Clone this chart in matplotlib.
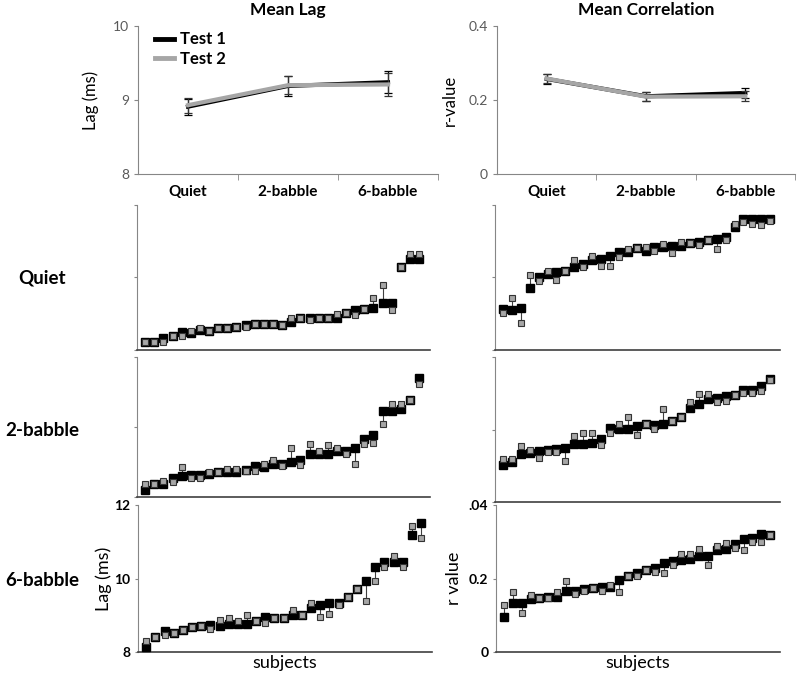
import numpy as np
import matplotlib
matplotlib.use("Agg")
import matplotlib.pyplot as plt
from matplotlib.lines import Line2D

plt.rcParams['font.family'] = ['Lato', 'DejaVu Sans']

# --- summary panels ---
conditions = ["Quiet", "2-babble", "6-babble"]
lag_t1 = [8.91, 9.19, 9.24]
lag_t2 = [8.93, 9.20, 9.21]
lag_err_t1 = [0.11, 0.13, 0.15]
lag_err_t2 = [0.10, 0.12, 0.15]
r_t1 = [0.257, 0.210, 0.219]
r_t2 = [0.258, 0.209, 0.210]
r_err_t1 = [0.013, 0.012, 0.013]
r_err_t2 = [0.012, 0.012, 0.014]

# --- per-subject values (test 1 = black, test 2 = grey) ---
quiet_lag_t1 = [8.23, 8.23, 8.34, 8.39, 8.51, 8.48, 8.55, 8.53, 8.62, 8.62, 8.64,
                8.69, 8.72, 8.72, 8.72, 8.70, 8.78, 8.87, 8.89, 8.87, 8.89, 8.89,
                9.03, 9.09, 9.13, 9.15, 9.29, 9.29, 10.30, 10.50, 10.50]
quiet_lag_t2 = [8.23, 8.23, 8.23, 8.39, 8.39, 8.52, 8.62, 8.53, 8.62, 8.62, 8.64,
                8.63, 8.72, 8.72, 8.72, 8.70, 8.87, 8.87, 8.83, 8.87, 8.89, 8.99,
                9.03, 8.97, 9.13, 9.44, 9.79, 9.10, 10.30, 10.65, 10.65]
quiet_r_t1 = [0.112, 0.110, 0.115, 0.170, 0.201, 0.210, 0.214, 0.218, 0.228, 0.237, 0.247,
              0.250, 0.258, 0.271, 0.271, 0.281, 0.274, 0.285, 0.285, 0.287, 0.288, 0.294,
              0.299, 0.304, 0.305, 0.313, 0.340, 0.362, 0.362, 0.362, 0.362]
quiet_r_t2 = [0.103, 0.143, 0.074, 0.207, 0.191, 0.218, 0.193, 0.218, 0.248, 0.228, 0.258,
              0.233, 0.233, 0.256, 0.279, 0.281, 0.283, 0.274, 0.293, 0.267, 0.297, 0.294,
              0.290, 0.304, 0.278, 0.304, 0.347, 0.352, 0.348, 0.345, 0.357]
b2_lag_t1 = [8.21, 8.38, 8.38, 8.55, 8.61, 8.64, 8.64, 8.66, 8.72, 8.71, 8.71,
             8.77, 8.88, 8.85, 8.94, 8.94, 8.99, 9.06, 9.22, 9.22, 9.22, 9.30,
             9.32, 9.39, 9.65, 9.77, 10.45, 10.45, 10.52, 10.76, 11.39]
b2_lag_t2 = [8.36, 8.38, 8.45, 8.44, 8.87, 8.55, 8.55, 8.71, 8.72, 8.80, 8.80,
             8.73, 8.73, 8.94, 9.06, 8.88, 9.41, 8.92, 9.51, 9.30, 9.49, 9.39,
             9.22, 8.94, 9.51, 9.55, 10.09, 10.65, 10.65, 10.76, 11.22]
b2_r_t1 = [0.103, 0.109, 0.133, 0.136, 0.141, 0.143, 0.147, 0.149, 0.159, 0.159, 0.164,
           0.175, 0.204, 0.202, 0.202, 0.209, 0.216, 0.212, 0.216, 0.224, 0.235, 0.258,
           0.270, 0.285, 0.288, 0.293, 0.296, 0.308, 0.308, 0.319, 0.340]
b2_r_t2 = [0.118, 0.118, 0.154, 0.143, 0.122, 0.138, 0.138, 0.112, 0.182, 0.189, 0.189,
           0.156, 0.189, 0.216, 0.235, 0.184, 0.216, 0.202, 0.256, 0.224, 0.235, 0.276,
           0.299, 0.299, 0.276, 0.278, 0.296, 0.302, 0.302, 0.306, 0.336]
b6_lag_t1 = [8.14, 8.41, 8.56, 8.52, 8.61, 8.68, 8.70, 8.74, 8.70, 8.77, 8.77,
             8.77, 8.85, 8.95, 8.92, 8.92, 9.00, 9.00, 9.19, 9.27, 9.33, 9.33,
             9.51, 9.71, 9.92, 10.31, 10.46, 10.46, 10.46, 11.19, 11.50]
b6_lag_t2 = [8.29, 8.41, 8.47, 8.52, 8.61, 8.68, 8.70, 8.62, 8.86, 8.92, 8.83,
             9.01, 8.85, 8.79, 8.92, 8.92, 9.13, 9.00, 9.33, 8.94, 9.03, 9.29,
             9.51, 9.71, 9.38, 9.92, 10.31, 10.62, 10.31, 11.43, 11.10]
b6_r_t1 = [0.095, 0.133, 0.133, 0.145, 0.147, 0.151, 0.151, 0.167, 0.167, 0.172, 0.174,
           0.178, 0.176, 0.196, 0.207, 0.214, 0.224, 0.228, 0.243, 0.248, 0.249, 0.253,
           0.260, 0.260, 0.278, 0.281, 0.294, 0.308, 0.311, 0.320, 0.319]
b6_r_t2 = [0.127, 0.163, 0.106, 0.156, 0.147, 0.147, 0.163, 0.194, 0.158, 0.167, 0.174,
           0.167, 0.183, 0.163, 0.207, 0.207, 0.224, 0.219, 0.216, 0.237, 0.266, 0.266,
           0.280, 0.237, 0.289, 0.296, 0.284, 0.278, 0.300, 0.300, 0.319]

GREY = "#a6a6a6"
AX = "#868686"
TXT = "#595959"

fig = plt.figure(figsize=(8, 6.78), dpi=100)


def px(l, t, r, b):
    return [l / 800, 1 - b / 678, (r - l) / 800, (b - t) / 678]


def summary(ax, t1, t2, e1, e2, ylim, yticks, yticklabels, ylabel, title):
    x = np.arange(len(conditions))
    ax.errorbar(x, t1, yerr=e1, color="black", lw=3, ecolor="black",
                elinewidth=0.9, capsize=3, capthick=0.9, zorder=3)
    ax.errorbar(x, t2, yerr=e2, color=GREY, lw=3, ecolor="#333333",
                elinewidth=0.9, capsize=3, capthick=0.9, zorder=4)
    ax.set_xlim(-0.5, 2.5)
    ax.set_ylim(*ylim)
    ax.set_yticks(yticks)
    ax.set_yticklabels(yticklabels, color=TXT, fontsize=10)
    ax.set_xticks(x)
    ax.set_xticklabels(conditions, fontsize=11, fontweight="bold")
    ax.tick_params(axis="x", length=0, pad=8)
    ax.set_xticks([0.5, 1.5, 2.5], minor=True)
    ax.tick_params(axis="x", which="minor", length=4, color=AX)
    ax.tick_params(axis="y", length=3, color=AX)
    for s in ["top", "right"]:
        ax.spines[s].set_visible(False)
    for s in ["left", "bottom"]:
        ax.spines[s].set_color(AX)
    ax.set_ylabel(ylabel, fontsize=12)
    ax.set_title(title, fontsize=12.5, fontweight="bold", pad=8)


ax1 = fig.add_axes(px(138, 26, 438, 174))
summary(ax1, lag_t1, lag_t2, lag_err_t1, lag_err_t2, (8, 10), [8, 9, 10],
        ["8", "9", "10"], "Lag (ms)", "Mean Lag")
ax1.yaxis.set_label_coords(-0.13, 0.5)
handles = [Line2D([], [], color="black", lw=3.5), Line2D([], [], color=GREY, lw=3.5)]
leg = ax1.legend(handles, ["Test 1", "Test 2"], loc="upper left", frameon=False,
                 handlelength=1.1, fontsize=12, borderaxespad=0.1,
                 bbox_to_anchor=(0.03, 1.02), handletextpad=0.4, labelspacing=0.2)
for t in leg.get_texts():
    t.set_fontweight("bold")

ax2 = fig.add_axes(px(497, 26, 795, 174))
summary(ax2, r_t1, r_t2, r_err_t1, r_err_t2, (0, 0.4), [0, 0.2, 0.4],
        ["0", "0.2", "0.4"], "r-value", "Mean Correlation")
ax2.yaxis.set_label_coords(-0.13, 0.5)


def subjects(ax, t1, t2, ylim, xlim):
    x = np.arange(len(t1))
    lo = np.minimum(t1, t2)
    hi = np.maximum(t1, t2)
    ax.vlines(x, lo, hi, color="#404040", lw=0.8, zorder=2)
    ax.plot(x, t1, "s", color="black", ms=5.4, zorder=3)
    ax.plot(x, t2, "s", color=GREY, mec="#333333", mew=0.8, ms=4.9, zorder=4)
    ax.set_xlim(*xlim)
    ax.set_ylim(*ylim)
    ax.set_xticks([])
    for s in ["top", "right"]:
        ax.spines[s].set_visible(False)
    ax.spines["left"].set_color(AX)
    ax.spines["bottom"].set_color("#404040")
    ax.spines["bottom"].set_linewidth(1.2)
    ax.tick_params(axis="y", length=2, color=AX)


rows = [
    ("Quiet", quiet_lag_t1, quiet_lag_t2, quiet_r_t1, quiet_r_t2,
     (137, 205, 430, 350), (495, 205, 780, 350), 278),
    ("2-babble", b2_lag_t1, b2_lag_t2, b2_r_t1, b2_r_t2,
     (137, 357, 430, 497), (495, 357, 780, 502), 430),
    ("6-babble", b6_lag_t1, b6_lag_t2, b6_r_t1, b6_r_t2,
     (138, 505, 432, 652), (496, 505, 780, 652), 580),
]

for i, (name, l1, l2, c1, c2, pl, pr, ylab) in enumerate(rows):
    axl = fig.add_axes(px(*pl))
    subjects(axl, l1, l2, (8, 12), (-0.9, 31.2))
    axr = fig.add_axes(px(*pr))
    subjects(axr, c1, c2, (0, 0.4), (-0.9, 31.1))
    axl.set_yticks([8, 10, 12])
    axr.set_yticks([0, 0.2, 0.4])
    if i < 2:
        axl.set_yticklabels([])
        axr.set_yticklabels([])
    else:
        axl.set_yticklabels(["8", "10", "12"], fontsize=10, fontweight="bold")
        axr.set_yticklabels(["0", "0.2", ".04"], fontsize=10, fontweight="bold")
        axl.set_ylabel("Lag (ms)", fontsize=13)
        axr.set_ylabel("r value", fontsize=13)
        axl.yaxis.set_label_coords(-0.09, 0.5)
        axr.yaxis.set_label_coords(-0.12, 0.5)
        axl.set_xlabel("subjects", fontsize=13, labelpad=2)
        axr.set_xlabel("subjects", fontsize=13, labelpad=2)
    fig.text(5 / 800 if name != "Quiet" else 18 / 800, 1 - ylab / 678, name,
             fontsize=13.5, fontweight="bold", ha="left", va="center")

fig.savefig("out.png", dpi=100)
